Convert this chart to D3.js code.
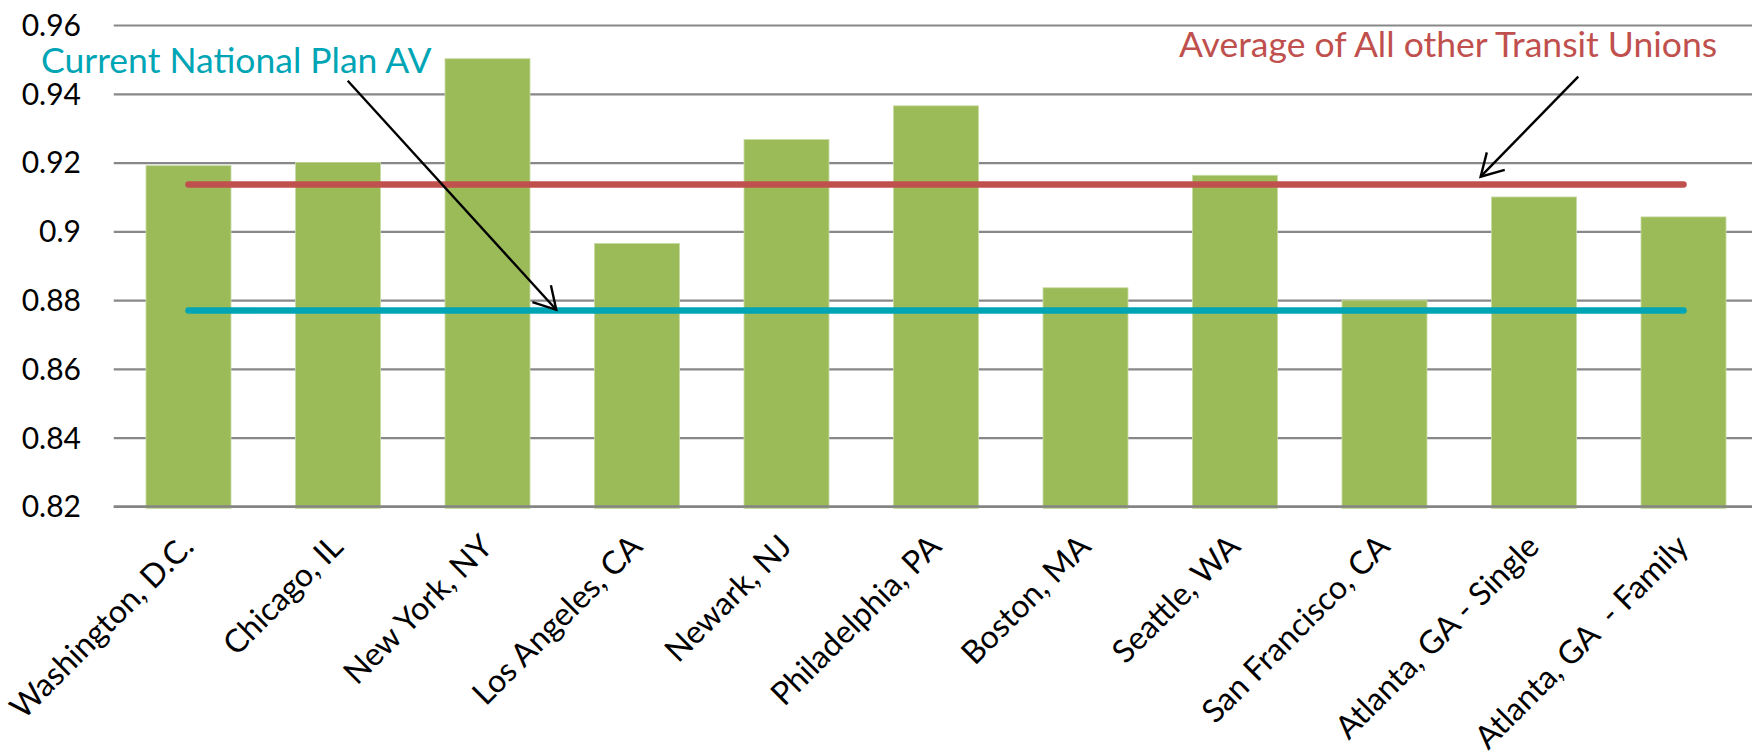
<!DOCTYPE html>
<html>
<head>
<meta charset="utf-8">
<script src="https://cdn.jsdelivr.net/npm/d3@7"></script>
<style>
  html, body { margin: 0; padding: 0; background: #fff; }
  svg { display: block; font-family: Lato, "Open Sans", sans-serif; }
</style>
</head>
<body>
<svg id="chart" width="1752" height="753"></svg>
<script>
// Actuarial value by transit union plan
const categories = [
  "Washington, D.C.", "Chicago, IL", "New York, NY", "Los Angeles, CA",
  "Newark, NJ", "Philadelphia, PA", "Boston, MA", "Seattle, WA",
  "San Francisco, CA", "Atlanta, GA - Single", "Atlanta, GA  - Family"
];
const avValues = [0.9191, 0.9200, 0.9502, 0.8965, 0.9267, 0.9365, 0.8836, 0.9163, 0.8800, 0.9100, 0.9042];

// Reference levels drawn as horizontal series
const averageOtherUnions = 0.9136;
const currentNationalPlanAV = 0.877;

// Value axis
const yDomain = [0.82, 0.96];
const yTicks = [0.82, 0.84, 0.86, 0.88, 0.90, 0.92, 0.94, 0.96];
const yTickLabels = ["0.82", "0.84", "0.86", "0.88", "0.9", "0.92", "0.94", "0.96"];

// Callouts: arrow start/end given as [category index, value]
const callouts = [
  { text: "Current National Plan AV", color: "#00A5B5", textX: 41, textY: 73,
    from: [1.065, 0.9438], to: [2.46, 0.8772] },
  { text: "Average of All other Transit Unions", color: "#C0504D", textX: 1179, textY: 57,
    from: [9.296, 0.9450], to: [8.643, 0.9159] }
];

const W = 1752, H = 753;
const plot = { left: 113.75, right: 1758.25, top: 25, bottom: 506.5 };

const svg = d3.select("#chart");
svg.append("rect").attr("width", W).attr("height", H).attr("fill", "#fff");

const x = d3.scaleBand()
  .domain(categories)
  .range([plot.left, plot.right])
  .paddingInner(0.4314)
  .paddingOuter(0.2157);

const y = d3.scaleLinear().domain(yDomain).range([plot.bottom, plot.top]);

const centerAt = i => x(categories[0]) + x.bandwidth() / 2 + i * x.step();

// Gridlines
const grid = d3.axisLeft(y).tickValues(yTicks).tickSize(-(W - plot.left)).tickFormat("");
svg.append("g")
  .attr("transform", `translate(${plot.left},0)`)
  .call(grid)
  .call(g => g.select(".domain").remove())
  .call(g => g.selectAll(".tick line").attr("stroke", "#888").attr("stroke-width", 2.2));

// Tick labels
svg.append("g")
  .selectAll("text")
  .data(yTicks)
  .join("text")
  .attr("x", 81)
  .attr("y", d => y(d))
  .attr("dy", "0.36em")
  .attr("text-anchor", "end")
  .attr("font-size", 30)
  .attr("fill", "#000")
  .text((d, i) => yTickLabels[i]);

// Bars
svg.append("g")
  .selectAll("rect")
  .data(avValues)
  .join("rect")
  .attr("x", (d, i) => x(categories[i]))
  .attr("width", x.bandwidth())
  .attr("y", d => y(d))
  .attr("height", d => y(yDomain[0]) + 2 - y(d))
  .attr("fill", "#9BBB59")
  .attr("stroke", "#c9dba4")
  .attr("stroke-width", 0.8);

// Axis baseline over the bars
svg.append("line")
  .attr("x1", plot.left).attr("x2", W)
  .attr("y1", y(yDomain[0])).attr("y2", y(yDomain[0]))
  .attr("stroke", "#848484").attr("stroke-width", 2.4);

// Reference lines across categories
const refLine = d3.line().x(d => x(d) + x.bandwidth() / 2);
[[averageOtherUnions, "#C0504D"], [currentNationalPlanAV, "#00A5B5"]].forEach(([v, c]) => {
  svg.append("path")
    .attr("d", refLine.y(() => y(v))(categories))
    .attr("fill", "none")
    .attr("stroke", c)
    .attr("stroke-width", 6.5)
    .attr("stroke-linecap", "round");
});

// Category labels
svg.append("g")
  .selectAll("text")
  .data(categories)
  .join("text")
  .attr("transform", d => `translate(${x(d) + x.bandwidth() / 2 + 7},${plot.bottom + 42}) rotate(-45)`)
  .attr("text-anchor", "end")
  .attr("font-size", 32)
  .attr("fill", "#000")
  .style("white-space", "pre")
  .text(d => d);

// Callout arrows
svg.append("defs").append("marker")
  .attr("id", "openArrow")
  .attr("markerUnits", "userSpaceOnUse")
  .attr("viewBox", "-26 -16 30 32")
  .attr("refX", 0).attr("refY", 0)
  .attr("markerWidth", 30).attr("markerHeight", 32)
  .attr("orient", "auto")
  .append("path")
  .attr("d", "M-21.7,-12.5L0,0L-21.7,12.5")
  .attr("fill", "none")
  .attr("stroke", "#000")
  .attr("stroke-width", 2.4);

callouts.forEach(c => {
  svg.append("line")
    .attr("x1", centerAt(c.from[0])).attr("y1", y(c.from[1]))
    .attr("x2", centerAt(c.to[0])).attr("y2", y(c.to[1]))
    .attr("stroke", "#000")
    .attr("stroke-width", 2.4)
    .attr("marker-end", "url(#openArrow)");
  svg.append("text")
    .attr("x", c.textX).attr("y", c.textY)
    .attr("font-size", 35.5)
    .attr("fill", c.color)
    .text(c.text);
});
</script>
</body>
</html>
